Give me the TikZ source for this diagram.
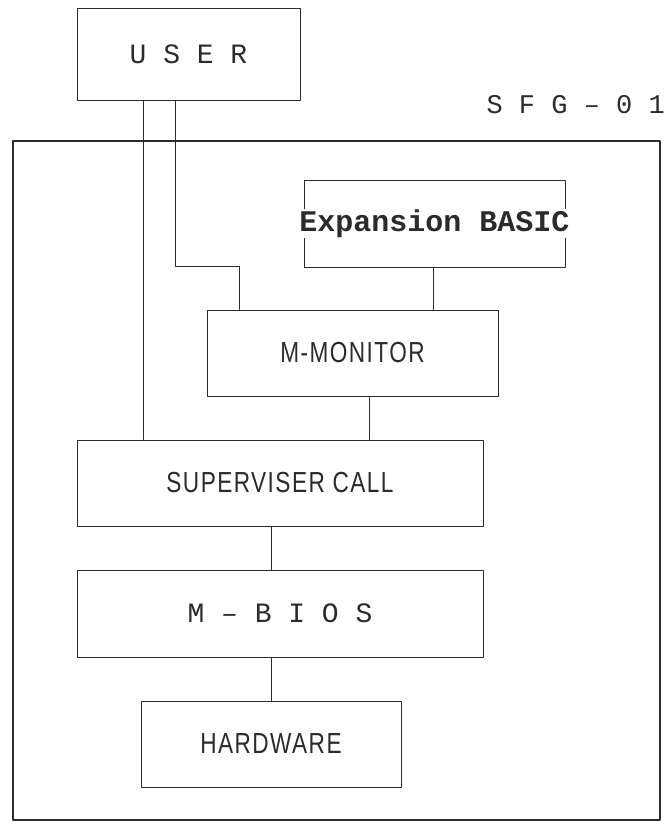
\documentclass[tikz,border=0pt]{standalone}
\usepackage{fontspec}
\usetikzlibrary{positioning,calc}
\newfontfamily\typefont{Liberation Mono}
\newfontfamily\dotfont[FakeStretch=0.78,LetterSpace=5]{Liberation Sans}
\definecolor{inkdark}{HTML}{2B2B2B}
\tikzset{
  layerbox/.style={
    draw=inkdark,
    line width=1.0pt,
    fill=white,
    inner sep=0pt,
    minimum height=86pt,
    text=inkdark,
    font=\dotfont\fontsize{29}{30}\selectfont,
  },
  spacedbox/.style={layerbox, font=\typefont\fontsize{28}{30}\selectfont},
  framebox/.style={draw=inkdark, line width=1.1pt},
  link/.style={draw=inkdark, line width=1.0pt},
}
\begin{document}
\begin{tikzpicture}[x=1pt, y=-1pt, line cap=round, line join=round]
  \useasboundingbox (0,0) rectangle (667,830);

  % outer frame
  \node[framebox, minimum width=647pt, minimum height=679pt, inner sep=0pt] (system) at (336.5, 480.5) {};

  \node[spacedbox, minimum width=223pt, minimum height=92pt] (user) at (188.5, 54) {U S E R};
  \node[font=\typefont\fontsize{27}{28}\selectfont, text=inkdark, anchor=east, inner sep=0pt] (label) at (665, 105) {S F G – 0 1};

  \node[layerbox, minimum width=261pt, minimum height=87pt] (expansion) at (434.5, 223.5) {};
  \node[fill=white, inner sep=1pt, text=inkdark, font=\typefont\bfseries\fontsize{30}{32}\selectfont] (exptext) at (expansion.center) {Expansion BASIC};
  \node[layerbox, minimum width=291pt] (monitor) at (352.5, 353) {M-MONITOR};
  \node[layerbox, minimum width=406pt] (super) at (280, 483) {SUPERVISER CALL};
  \node[spacedbox, minimum width=406pt, minimum height=87pt] (bios) at (280, 613.5) {M – B I O S};
  \node[layerbox, minimum width=260pt] (hardware) at (271, 744) {HARDWARE};

  % taps on the connectors
  \coordinate (tapA) at (143, 0);
  \coordinate (bend) at (175, 266);
  \coordinate (tapC) at (239, 0);
  \coordinate (tapD) at (433, 0);
  \coordinate (tapE) at (369, 0);

  \draw[link] (user.south -| tapA) -- (super.north -| tapA);
  \draw[link] (user.south -| bend) -- (bend) -| (monitor.north -| tapC);
  \draw[link] (expansion.south -| tapD) -- (monitor.north -| tapD);
  \draw[link] (monitor.south -| tapE) -- (super.north -| tapE);
  \draw[link] (super.south -| hardware) -- (bios.north -| hardware);
  \draw[link] (bios.south -| hardware) -- (hardware.north);
\end{tikzpicture}
\end{document}
